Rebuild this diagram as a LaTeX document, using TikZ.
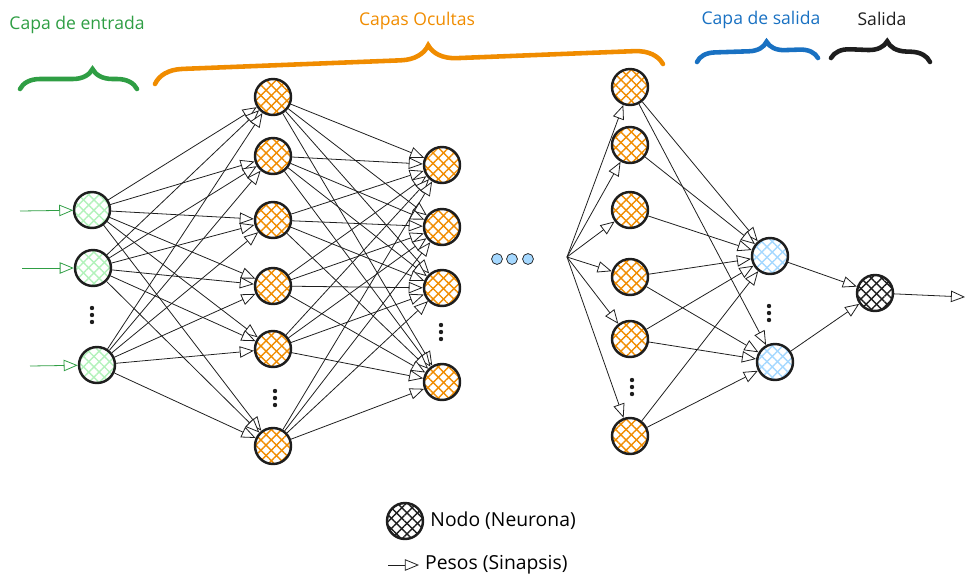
\documentclass[tikz,border=0pt]{standalone}
\usepackage{fontspec}
\setmainfont{Open Sans}
\usetikzlibrary{arrows.meta,patterns.meta,decorations.pathreplacing}
\definecolor{hgreen}{HTML}{2F9E44}
\definecolor{horange}{HTML}{F08C00}
\definecolor{hblue}{HTML}{1971C2}
\definecolor{hink}{HTML}{1E1E1E}
\definecolor{lgreen}{HTML}{B2F2BB}
\definecolor{lblue}{HTML}{A5D8FF}
\tikzset{
  neuron/.style={circle,draw=hink,line width=1.4pt,minimum size=0.72cm,
    preaction={pattern={Lines[angle=45,distance=4.2pt,line width=0.8pt]},pattern color=#1},
    pattern={Lines[angle=-45,distance=4.2pt,line width=0.8pt]},pattern color=#1},
  weight/.style={-{Triangle[fill=white,length=8pt,width=6.5pt]},line width=0.45pt,draw=hink},
  layerbrace/.style 2 args={decorate,decoration={brace,amplitude=#1,aspect=#2},
    line width=2.6pt,line cap=round},
  layername/.style={font=\fontsize{10}{12}\selectfont},
}
\begin{document}
\begin{tikzpicture}[x=0.02cm,y=-0.02cm]
  \useasboundingbox (0,0) rectangle (974,586);
  % layer titles and braces
  \node[layername,text=hgreen] (tin) at (77,25) {Capa de entrada};
  \node[layername,text=horange] (thid) at (417,21) {Capas Ocultas};
  \node[layername,text=hblue] (tout) at (761,20) {Capa de salida};
  \node[layername,text=hink] (tres) at (882,19) {Salida};
  \draw[layerbrace={0.4cm}{0.62},hgreen] (20,89) -- (137,89);
  \draw[layerbrace={0.56cm}{0.54},horange] (155,84) -- (663,64);
  \draw[layerbrace={0.36cm}{0.58},hblue] (697,62) -- (818,58);
  \draw[layerbrace={0.38cm}{0.56},hink] (831,58) -- (930,62);
  % input layer
  \node[neuron=lgreen] (i1) at (92,210) {};
  \node[neuron=lgreen] (i2) at (93,268) {};
  \node[neuron=lgreen] (i3) at (97,365) {};
  \coordinate (in1) at (20,211);
  \coordinate (in2) at (22,268);
  \coordinate (in3) at (30,366);
  % hidden layers
  \foreach \n/\y in {1/97,2/156,3/220,4/286,5/349,6/446}
    \node[neuron=horange] (h\n) at (273,\y) {};
  \foreach \n/\y in {1/165,2/227,3/288,4/382}
    \node[neuron=horange] (j\n) at (442,\y) {};
  \foreach \n/\y in {1/87,2/145,3/210,4/277,5/339,6/436}
    \node[neuron=horange] (k\n) at (630,\y) {};
  \coordinate (fan) at (567,257);
  % output layer
  \node[neuron=lblue] (o1) at (770,256) {};
  \node[neuron=lblue] (o2) at (775,362) {};
  \node[neuron=hink] (f) at (875,293) {};
  \coordinate (out) at (965,297);
  % weights
  \foreach \n in {1,2,3} \draw[weight,draw=hgreen] (in\n) -- (i\n);
  \foreach \a in {1,2,3} \foreach \b in {1,...,6} \draw[weight] (i\a) -- (h\b);
  \foreach \a in {1,...,6} \foreach \b in {1,...,4} \draw[weight] (h\a) -- (j\b);
  \foreach \b in {1,...,6} \draw[weight] (fan) -- (k\b);
  \foreach \a/\b in {1/1,1/2,2/1,3/1,4/1,4/2,5/1,5/2,6/1,6/2}
    \draw[weight] (k\a) -- (o\b);
  \draw[weight] (o1) -- (f);
  \draw[weight] (o2) -- (f);
  \draw[weight] (f) -- (out);
  % dots
  \foreach \x/\y in {92/308,275/391,441/325,632/380,769/306}
    \foreach \d in {0,7,14} \fill[hink] (\x,\y+\d) circle (1.25pt);
  \foreach \x in {497,512,528} \draw[hink,fill=lblue,line width=0.4pt] (\x,259) circle (3.1pt);
  % legend
  \node[neuron=hink] (key) at (405,521) {};
  \node[anchor=west,font=\fontsize{11}{13}\selectfont] (keytext) at (key.east) {Nodo (Neurona)};
  \coordinate (wstart) at (388,565);
  \node[anchor=west,font=\fontsize{11}{13}\selectfont] (wtext) at (419,565) {Pesos (Sinapsis)};
  \draw[weight] (wstart) -- (wtext.west);
\end{tikzpicture}
\end{document}
